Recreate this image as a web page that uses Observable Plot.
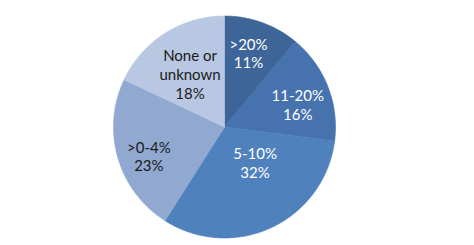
<!DOCTYPE html>
<html>
<head>
<meta charset="utf-8">
<script src="https://cdn.jsdelivr.net/npm/d3@7"></script>
<script src="https://cdn.jsdelivr.net/npm/@observablehq/plot@0.6"></script>
<style>
  html, body { margin: 0; padding: 0; background: #fff; }
  #chart { width: 474px; height: 245px; }
</style>
</head>
<body>
<div id="chart"></div>
<script>
// ---- data ----
const categories = [">20%", "11-20%", "5-10%", ">0-4%", "None or\nunknown"];
const shares = [11, 16, 32, 23, 18];
const valueLabels = ["11%", "16%", "32%", "23%", "18%"];

// ---- styling ----
const colors = ["#3d6597", "#4672ad", "#4f81bd", "#91a9d1", "#b9c8e2"];
const textColors = ["#ffffff", "#ffffff", "#ffffff", "#1a1a1a", "#1a1a1a"];
// label placement: [radius fraction, angle (deg, clockwise from top)]
const labelPolar = [[0.70, 18], [0.69, 73], [0.42, 139], [0.73, 249], [0.57, 327]];

const W = 474, H = 245, cx = 224, cy = 126.5, R = 111;

const pie = d3.pie().sort(null).value(d => d.share).startAngle(0).endAngle(2 * Math.PI);
const table = categories.map((c, i) => ({cat: c, share: shares[i], label: valueLabels[i], i}));
const arcs = pie(table);

// polygon outline of each slice, in unit-radius data coordinates
const pts = [];
for (const a of arcs) {
  const cat = a.data.cat;
  pts.push({cat, x: 0, y: 0});
  const n = Math.max(2, Math.ceil((a.endAngle - a.startAngle) * 180 / Math.PI));
  for (let k = 0; k <= n; k++) {
    const t = a.startAngle + (a.endAngle - a.startAngle) * k / n;
    pts.push({cat, x: Math.sin(t), y: Math.cos(t)});
  }
  pts.push({cat, x: 0, y: 0});
}

const labels = arcs.map(a => {
  const [rf, deg] = labelPolar[a.data.i];
  const t = deg * Math.PI / 180;
  return {
    text: a.data.cat + "\n" + a.data.label,
    x: rf * Math.sin(t), y: rf * Math.cos(t),
    color: textColors[a.data.i]
  };
});

const chart = Plot.plot({
  width: W, height: H,
  margin: 0,
  style: {background: "#fff", fontFamily: "Lato, 'Open Sans', sans-serif"},
  x: {domain: [-cx / R, (W - cx) / R], axis: null},
  y: {domain: [-(H - cy) / R, cy / R], axis: null},
  color: {domain: categories, range: colors},
  marks: [
    Plot.line(pts, {x: "x", y: "y", z: "cat", fill: "cat", stroke: "cat", strokeWidth: 0.6, curve: "linear"}),
    Plot.text(labels.filter(d => d.color === "#ffffff"), {
      x: "x", y: "y", text: "text", fill: "#ffffff",
      fontSize: 15, lineHeight: 1.25, textAnchor: "middle"
    }),
    Plot.text(labels.filter(d => d.color !== "#ffffff"), {
      x: "x", y: "y", text: "text", fill: "#1a1a1a",
      fontSize: 15, lineHeight: 1.25, textAnchor: "middle"
    })
  ]
});
document.getElementById("chart").append(chart);
</script>
</body>
</html>
